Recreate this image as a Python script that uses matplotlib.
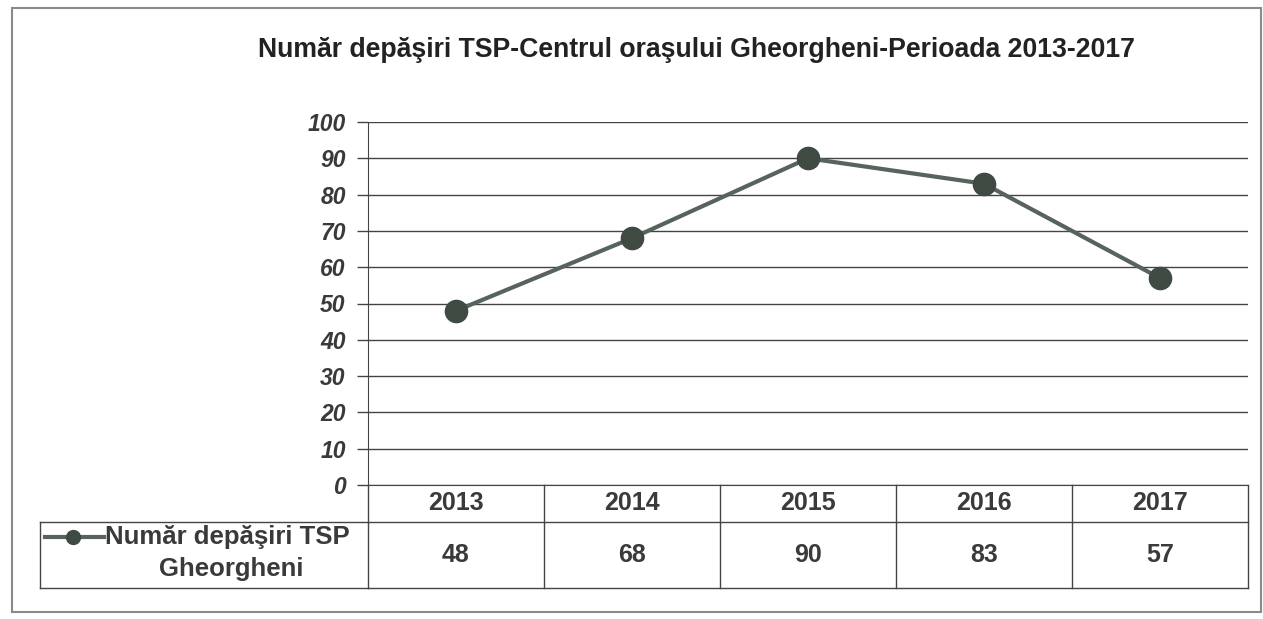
import matplotlib
matplotlib.use("Agg")
import matplotlib.pyplot as plt
from matplotlib.lines import Line2D
from matplotlib.patches import Rectangle
import matplotlib.transforms as mtransforms

years = ["2013", "2014", "2015", "2016", "2017"]
values = [48, 68, 90, 83, 57]
yticks = [0, 10, 20, 30, 40, 50, 60, 70, 80, 90, 100]
title = "Număr depăşiri TSP-Centrul oraşului Gheorgheni-Perioada 2013-2017"
series_label_1 = "Număr depăşiri TSP"
series_label_2 = "Gheorgheni"

W, H = 1263, 619
fig = plt.figure(figsize=(W / 100, H / 100), dpi=100)
fig.patch.set_facecolor("white")
plt.rcParams['font.family'] = ['Liberation Sans', 'DejaVu Sans']

def fx(px):
    return px / W

def fy(py):
    return 1 - py / H

txt = "#3a3a3a"
# outer frame
fig.add_artist(Rectangle((fx(12), fy(612)), fx(1261) - fx(12), fy(8) - fy(612),
                         transform=fig.transFigure, fill=False, edgecolor="#8a8a8a", lw=1.5))

ax = fig.add_axes([fx(368), fy(485), fx(1248) - fx(368), fy(122) - fy(485)])
x = list(range(len(years)))
line_color = "#56645b"
ax.plot(x, values, color=line_color, lw=3, marker="o", markersize=16,
        markerfacecolor="#3f4a43", markeredgecolor="#3f4a43", zorder=3)
ax.set_xlim(-0.5, len(years) - 0.5)
ax.set_ylim(0, 100)
ax.set_yticks(yticks)
ax.set_yticklabels([str(t) for t in yticks], fontsize=16.5, fontweight="bold",
                   fontstyle="italic", color=txt)
ax.tick_params(axis="y", length=8, width=1, color="#444444", pad=8)
ax.set_xticks([])
ax.grid(axis="y", color="#444444", lw=1)
ax.set_axisbelow(True)
for s in ["top", "right"]:
    ax.spines[s].set_visible(False)
ax.spines["left"].set_color("#444444")
ax.spines["bottom"].set_color("#444444")

fig.text(0.5 * (fx(253) + fx(1140)), fy(50), title, ha="center", va="center",
         fontsize=19.2, fontweight="bold", color="#222222")

# data table below axis
trans = mtransforms.blended_transform_factory(ax.transData, fig.transFigure)
y_top, y_mid, y_bot = fy(485), fy(522), fy(588)
tc = "#444444"
fig.add_artist(Line2D([-0.5, len(years) - 0.5], [y_mid, y_mid], transform=trans, color=tc, lw=1))
fig.add_artist(Line2D([-0.5, len(years) - 0.5], [y_bot, y_bot], transform=trans, color=tc, lw=1))
fig.add_artist(Line2D([fx(40), fx(368)], [y_mid, y_mid], transform=fig.transFigure, color=tc, lw=1))
fig.add_artist(Line2D([fx(40), fx(368)], [y_bot, y_bot], transform=fig.transFigure, color=tc, lw=1))
fig.add_artist(Line2D([fx(40), fx(40)], [y_bot, y_mid], transform=fig.transFigure, color=tc, lw=1))
for i in range(len(years) + 1):
    xb = i - 0.5
    fig.add_artist(Line2D([xb, xb], [y_bot, y_top], transform=trans, color=tc, lw=1))
for i, (yr, v) in enumerate(zip(years, values)):
    fig.text(i, (y_top + y_mid) / 2, yr, transform=trans, ha="center", va="center",
             fontsize=18, fontweight="bold", color=txt)
    fig.text(i, (y_mid + y_bot) / 2, str(v), transform=trans, ha="center", va="center",
             fontsize=18, fontweight="bold", color=txt)

# legend key in table
fig.add_artist(Line2D([fx(45), fx(104)], [fy(537), fy(537)], transform=fig.transFigure,
                      color=line_color, lw=3))
fig.add_artist(Line2D([fx(73)], [fy(537)], transform=fig.transFigure, marker="o",
                      markersize=10, color="#3f4a43", lw=0))
fig.text(fx(105), fy(537), series_label_1, ha="left", va="center",
         fontsize=18.5, fontweight="bold", color=txt)
fig.text(fx(231), fy(569), series_label_2, ha="center", va="center",
         fontsize=18.5, fontweight="bold", color=txt)

fig.savefig("out.png", dpi=100, facecolor="white")
